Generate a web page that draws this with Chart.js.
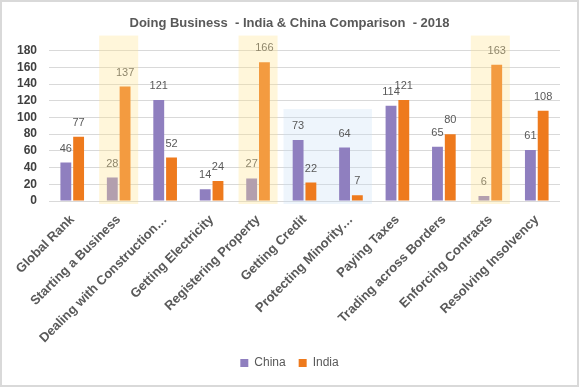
<!DOCTYPE html>
<html>
<head>
<meta charset="utf-8">
<script src="https://cdn.jsdelivr.net/npm/chart.js@4/dist/chart.umd.min.js"></script>
<style>
  html, body { margin: 0; padding: 0; background: #fff; }
  #wrap { width: 579px; height: 387px; box-sizing: border-box; border: 2px solid #d9d9d9; position: relative; }
  #wrap canvas { position: absolute; left: -2px; top: -2px; }
</style>
</head>
<body>
<div id="wrap"><canvas id="chart" width="579" height="387"></canvas></div>
<script>
const categorias = [
  'Global Rank', 'Starting a Business', 'Dealing with Construction\u2026', 'Getting Electricity',
  'Registering Property', 'Getting Credit', 'Protecting Minority\u2026', 'Paying Taxes',
  'Trading across Borders', 'Enforcing Contracts', 'Resolving Insolvency'
];
const china = [46, 28, 121, 14, 27, 73, 64, 114, 65, 6, 61];
const india = [77, 137, 52, 24, 166, 22, 7, 121, 80, 163, 108];
const yTicks = [0, 20, 40, 60, 80, 100, 120, 140, 160, 180];

const destaqueAmarelo = ['Starting a Business', 'Registering Property', 'Enforcing Contracts'];
const destaqueAzul = ['Getting Credit', 'Protecting Minority\u2026'];

const fonte = '"Liberation Sans", Arial, sans-serif';

const rotulos = {
  id: 'rotulos',
  afterDatasetsDraw(chart) {
    const ctx = chart.ctx;
    ctx.save();
    ctx.font = '11px ' + fonte;
    ctx.fillStyle = '#595959';
    ctx.textAlign = 'center';
    ctx.textBaseline = 'middle';
    chart.data.datasets.forEach((ds, i) => {
      chart.getDatasetMeta(i).data.forEach((bar, j) => {
        ctx.fillText(String(ds.data[j]), bar.x, bar.y - 14);
      });
    });
    ctx.restore();
  }
};

// fundo azul fica atras das barras, amarelo por cima
const fundoAzul = {
  id: 'fundoAzul',
  beforeDatasetsDraw(chart) {
    const ctx = chart.ctx;
    const x = chart.scales.x;
    const y = chart.scales.y;
    const baixo = chart.chartArea.bottom + 3;
    const x1 = x.getPixelForValue(categorias.indexOf(destaqueAzul[0])) - 21;
    const x2 = x.getPixelForValue(categorias.indexOf(destaqueAzul[1])) + 21;
    const topo = y.getPixelForValue(110);
    ctx.save();
    ctx.fillStyle = 'rgba(200, 222, 246, 0.3)';
    ctx.fillRect(x1, topo, x2 - x1, baixo - topo);
    ctx.restore();
  }
};

const destaques = {
  id: 'destaques',
  afterDraw(chart) {
    const ctx = chart.ctx;
    const x = chart.scales.x;
    const y = chart.scales.y;
    const baixo = chart.chartArea.bottom + 3;
    ctx.save();
    ctx.fillStyle = 'rgba(255, 228, 140, 0.32)';
    destaqueAmarelo.forEach((nome) => {
      const cx = x.getPixelForValue(categorias.indexOf(nome));
      const topo = y.getPixelForValue(198);
      ctx.fillRect(cx - 19.5, topo, 39, baixo - topo);
    });
    ctx.restore();
  }
};

new Chart(document.getElementById('chart'), {
  type: 'bar',
  data: {
    labels: categorias,
    datasets: [
      { label: 'China', data: china, backgroundColor: '#8f7fbf', barPercentage: 0.85, categoryPercentage: 0.55 },
      { label: 'India', data: india, backgroundColor: '#ee7a1d', barPercentage: 0.85, categoryPercentage: 0.55 }
    ]
  },
  options: {
    responsive: false,
    animation: false,
    layout: { padding: { left: 0, right: 0, top: 0, bottom: 8 } },
    plugins: {
      title: {
        display: true,
        text: 'Doing Business  - India & China Comparison  - 2018',
        color: '#595959',
        font: { family: fonte, size: 13, weight: 'bold' },
        padding: { top: 16, bottom: 19 }
      },
      legend: {
        position: 'bottom',
        labels: {
          color: '#595959',
          font: { family: fonte, size: 12 },
          boxWidth: 8,
          boxHeight: 8,
          padding: 13
        }
      },
      tooltip: { enabled: false }
    },
    scales: {
      x: {
        grid: { display: false },
        border: { display: false },
        ticks: {
          color: '#595959',
          maxRotation: 45,
          minRotation: 45,
          autoSkip: false,
          font: { family: fonte, size: 13, weight: 'bold' }
        },
        afterFit: (s) => { s.height = 143; }
      },
      y: {
        min: 0,
        max: 180,
        afterBuildTicks: (s) => { s.ticks = yTicks.map((v) => ({ value: v })); },
        grid: { color: '#d9d9d9', drawTicks: false },
        border: { display: false },
        ticks: {
          color: '#404040',
          padding: 12,
          autoSkip: false,
          font: { family: fonte, size: 12, weight: 'bold' }
        },
        afterFit: (s) => { s.width = 49; }
      },
      margem: {
        type: 'linear',
        position: 'right',
        grid: { display: false },
        border: { display: false },
        ticks: { display: false },
        afterFit: (s) => { s.width = 19; }
      }
    }
  },
  plugins: [fundoAzul, rotulos, destaques]
});
</script>
</body>
</html>
